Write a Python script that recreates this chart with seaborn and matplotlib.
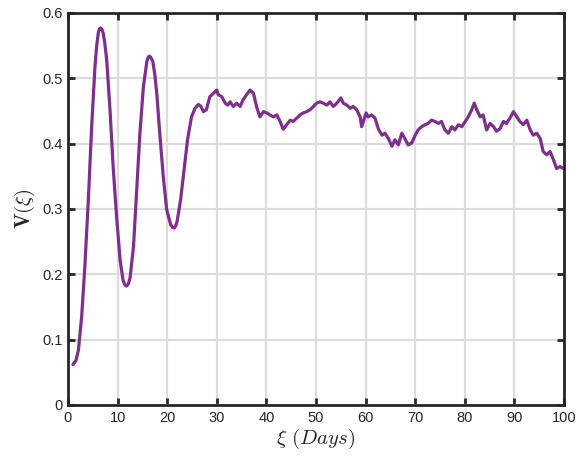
import matplotlib
matplotlib.use("Agg")
import matplotlib.pyplot as plt
import seaborn as sns
import pandas as pd

# Smooth oscillating start (days, V)
days_osc = [1.0, 1.6, 2.1, 2.75, 3.4, 4.1, 4.77, 5.44, 5.8, 6.1, 6.35, 6.6, 6.85, 7.1, 7.4,
            7.8, 8.47, 9.1, 9.8, 10.5, 11.1, 11.45, 11.8, 12.15, 12.5, 13.2, 13.85, 14.5,
            15.2, 15.9, 16.15, 16.4, 16.7, 17.1, 17.5, 17.9, 18.5, 19.2, 19.9, 20.7, 21.05,
            21.4, 21.7, 22.0, 22.7, 23.4, 24.1, 24.9]
v_osc = [0.062, 0.068, 0.084, 0.135, 0.212, 0.314, 0.426, 0.518, 0.551, 0.569, 0.576, 0.577,
         0.575, 0.569, 0.555, 0.528, 0.452, 0.365, 0.288, 0.222, 0.191, 0.184, 0.182, 0.185,
         0.194, 0.242, 0.329, 0.416, 0.487, 0.526, 0.532, 0.534, 0.532, 0.526, 0.506, 0.477,
         0.416, 0.350, 0.299, 0.276, 0.272, 0.271, 0.274, 0.281, 0.314, 0.360, 0.406, 0.441]

# Noisy plateau (days, V)
days_noise = [25.6, 26.3, 26.8, 27.3, 27.9, 28.6, 29.3, 30.0, 30.3, 31.0, 31.7, 32.2, 32.7,
              33.3, 34.0, 34.7, 35.3, 36.0, 36.7, 37.4, 38.0, 38.7, 39.4, 40.1, 40.7, 41.4,
              42.1, 42.7, 43.4, 44.1, 44.8, 45.4, 46.1, 46.8, 47.4, 48.1, 48.8, 49.5, 50.1,
              50.8, 51.5, 52.2, 52.8, 53.5, 54.2, 55.0, 55.5, 56.2, 56.9, 57.5, 58.2, 58.9,
              59.2, 60.1, 60.5, 61.2, 61.9, 62.6, 63.3, 63.9, 64.6, 65.3, 65.9, 66.6, 67.3,
              67.9, 68.6, 69.3, 70.0, 70.6, 71.3, 72.0, 72.6, 73.3, 74.0, 74.7, 75.3, 76.0,
              76.7, 77.4, 78.0, 78.7, 79.4, 80.1, 80.7, 81.4, 81.9, 82.4, 83.1, 83.7, 84.4,
              85.1, 85.8, 86.4, 87.1, 87.8, 88.4, 89.1, 89.8, 90.5, 91.1, 91.8, 92.5, 93.2,
              93.8, 94.5, 95.2, 95.8, 96.5, 97.2, 97.9, 98.5, 99.2, 99.9]
v_noise = [0.454, 0.460, 0.457, 0.449, 0.452, 0.472, 0.477, 0.482, 0.475, 0.472, 0.462, 0.459,
           0.464, 0.457, 0.462, 0.457, 0.467, 0.475, 0.482, 0.477, 0.457, 0.441, 0.449, 0.447,
           0.444, 0.441, 0.444, 0.435, 0.422, 0.429, 0.436, 0.434, 0.439, 0.444, 0.447, 0.449,
           0.452, 0.457, 0.462, 0.464, 0.462, 0.459, 0.464, 0.457, 0.462, 0.470, 0.462, 0.459,
           0.454, 0.457, 0.452, 0.441, 0.426, 0.447, 0.441, 0.444, 0.439, 0.422, 0.413, 0.416,
           0.408, 0.396, 0.406, 0.398, 0.416, 0.408, 0.398, 0.401, 0.413, 0.421, 0.426, 0.429,
           0.431, 0.436, 0.434, 0.431, 0.434, 0.421, 0.416, 0.426, 0.421, 0.429, 0.426, 0.434,
           0.441, 0.452, 0.462, 0.452, 0.441, 0.444, 0.421, 0.431, 0.426, 0.419, 0.423, 0.434,
           0.431, 0.439, 0.449, 0.441, 0.434, 0.429, 0.436, 0.421, 0.413, 0.416, 0.408, 0.388,
           0.383, 0.388, 0.375, 0.362, 0.365, 0.362]

x_ticks = [0, 10, 20, 30, 40, 50, 60, 70, 80, 90, 100]
y_ticks = [0, 0.1, 0.2, 0.3, 0.4, 0.5, 0.6]
y_tick_labels = ["0", "0.1", "0.2", "0.3", "0.4", "0.5", "0.6"]

df = pd.DataFrame({"day": days_osc + days_noise, "V": v_osc + v_noise})

sns.set_theme(style="whitegrid")
plt.rcParams["font.family"] = ["Liberation Sans", "DejaVu Sans"]
plt.rcParams["mathtext.fontset"] = "cm"

fig = plt.figure(figsize=(5.83, 4.57), dpi=100)
ax = fig.add_axes([68 / 583, 52 / 457, 496 / 583, 392 / 457])

sns.lineplot(data=df, x="day", y="V", ax=ax, color="#7E2F8E", linewidth=2.3,
             sort=False, estimator=None)

ax.set_xlim(0, 100)
ax.set_ylim(0, 0.6)
ax.set_xticks(x_ticks)
ax.set_yticks(y_ticks)
ax.set_yticklabels(y_tick_labels)
ax.grid(True, color="#DCDCDC", linewidth=1.6)
ax.set_axisbelow(True)
for s in ax.spines.values():
    s.set_color("#262626")
    s.set_linewidth(2.0)
ax.tick_params(direction="in", length=5, width=2.0, color="#262626", labelsize=10.5,
               labelcolor="#262626", top=True, right=True, bottom=True, left=True, pad=4)
ax.set_xlabel(r"$\xi\ (Days)$", fontsize=15, color="#262626", labelpad=2)
ax.set_ylabel(r"$\mathbf{V}(\xi)$", fontsize=15, color="#262626", labelpad=4)

fig.savefig("out.png", dpi=100)
